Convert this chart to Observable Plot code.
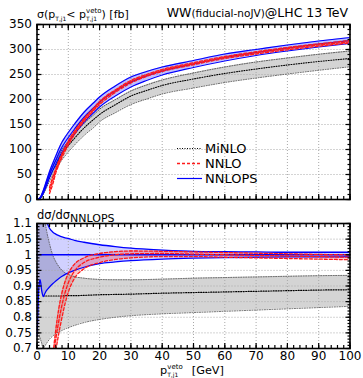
<!DOCTYPE html>
<html><head><meta charset="utf-8">
<script src="https://cdn.jsdelivr.net/npm/d3@7"></script>
<script src="https://cdn.jsdelivr.net/npm/@observablehq/plot@0.6"></script>
<style>
body{margin:0;background:#fff;}
#wrap{position:relative;width:363px;height:378px;overflow:hidden;background:#fff;}
#wrap > div, #wrap > svg{position:absolute;left:0;}
</style></head>
<body><div id="wrap"></div>
<script>
// ---------- data ----------
// top panel: cross section sigma(pT,j1 < pT veto) [fb]
const tx = [0,1,2,3,4,5,6,7,8,9,10,12,14,16,18,20,25,30,35,40,50,60,70,80,90,100];
const nnlopsTop   = [0,3,15,32,50,65,79,93,105,115,124,141,157,171,183,195,217,235,247,257,271,284,294,303,311,318];
const nnlopsTopLo = [0,2,12,27,44,58,71,84,95,105,114,131,147,161,173,185,207,225,238,249,264,277,288,297,305,312];
const nnlopsTopHi = [0,4,18,37,56,72,87,102,115,125,134,151,167,181,193,205,227,245,256,265,278,291,300,309,317,324];
const minloTop    = [0,2.6,13,27.8,43.4,56.4,68.6,80.7,91.1,100,107.8,122.5,136.6,148.8,159.6,170,189.4,207,218,228,241,252,261,269,276,282];
const minloTopLo  = [0,2.2,10.5,22.9,36.5,48.1,59.1,70,79.6,87.5,95.1,109.1,122,133.5,143.5,155.4,173.6,190,201,211,223,234,243,251,258.5,265.5];
const minloTopHi  = [0,3.5,17,34.6,51.8,65,77.3,89.5,99.8,108.5,116.2,131.1,145.5,158,168.7,180.5,199.6,217,229,239,253,265,275,283,290.5,297];
const nx = [4,5,6,7,8,9,10,12,14,16,18,20,25,30,35,40,50,60,70,80,90,100];
const nnloTop   = [18,37,57,73,88,101,113,134,151,166,179,193,217,236,248,258,271.5,284,293.4,301.8,309.1,315.5];
const nnloTopLo = [12,30,53,70,84,97,109,130,148,163,177,190,214,233,246,256,269.5,282,291,299.4,306.6,313];
const nnloTopHi = [24,44,61,78,92,105,117,137,154,169,182,196,219,238,250,260,273.5,286,295.5,304,311.3,318];

// bottom panel: ratio to NNLOPS
const rx = [0,0.25,0.5,0.75,1,1.5,2,2.5,3,4,5,6,7,8,9,10,12,15,20,25,30,40,50,60,70,80,90,100];
const nnlopsRatio   = [1,1,1,1,1,1,1,1,1,1,1,1,1,1,1,1,1,1,1,1,1,1,1,1,1,1,1,1];
const nnlopsRatioLo = [0.74,0.80,0.88,0.91,0.92,0.885,0.866,0.876,0.885,0.897,0.907,0.916,0.924,0.931,0.937,0.942,0.95,0.96,0.972,0.977,0.981,0.986,0.989,0.991,0.992,0.993,0.993,0.994];
const nnlopsRatioHi = [1.6,1.5,1.4,1.33,1.28,1.2,1.16,1.13,1.11,1.085,1.073,1.066,1.061,1.057,1.054,1.052,1.046,1.04,1.032,1.026,1.021,1.015,1.011,1.01,1.009,1.008,1.008,1.008];
const minloRatio   = [null,null,null,null,null,null,0.868,0.868,0.868,0.868,0.868,0.868,0.868,0.868,0.869,0.869,0.869,0.87,0.872,0.873,0.874,0.877,0.879,0.881,0.883,0.885,0.887,0.888];
const minloRatioLo = [0.765,0.757,0.748,0.74,0.733,0.717,0.70,0.708,0.716,0.73,0.74,0.748,0.753,0.758,0.763,0.767,0.774,0.783,0.793,0.8,0.805,0.811,0.815,0.819,0.823,0.827,0.831,0.835];
const minloRatioHi = [1.6,1.5,1.45,1.4,1.35,1.25,1.17,1.11,1.08,1.035,1.0,0.978,0.962,0.95,0.942,0.937,0.93,0.925,0.921,0.92,0.92,0.922,0.925,0.927,0.929,0.931,0.933,0.934];
const nnloRatio   = [null,null,null,null,null,null,null,null,null,null,0.64,0.73,0.79,0.84,0.88,0.91,0.948,0.975,0.992,1.0,1.003,1.004,1.002,1.0,0.998,0.996,0.994,0.992];
const nnloRatioHi = [null,null,null,null,null,null,null,null,null,null,0.67,0.76,0.83,0.88,0.915,0.94,0.97,0.99,1.004,1.01,1.012,1.011,1.009,1.007,1.005,1.003,1.001,1.0];
const nnloRatioLo = [null,null,null,null,null,null,null,null,null,null,0.6,0.69,0.75,0.80,0.845,0.88,0.925,0.955,0.975,0.985,0.99,0.994,0.994,0.992,0.99,0.988,0.986,0.984];

// ticks
const xMajor = [0,10,20,30,40,50,60,70,80,90,100];
const xGrid = [10,20,30,40,50,60,70,80,90];
const xMinor = d3.range(0, 100.001, 2);
const yTopMajor = [0,50,100,150,200,250,300,350];
const yTopGrid = [50,100,150,200,250,300];
const yTopMinor = d3.range(0, 350.001, 10);
const yRatMajor = [0.7,0.75,0.8,0.85,0.9,0.95,1,1.05,1.1];
const yRatGrid = [0.75,0.8,0.85,0.9,0.95,1,1.05];
const yRatMinor = d3.range(70, 110.5, 1).map(v => v / 100);

// ---------- build tables ----------
const topNNLOPS = tx.map((x,i)=>({x, c:nnlopsTop[i], lo:nnlopsTopLo[i], hi:nnlopsTopHi[i]}));
const topMiNLO  = tx.map((x,i)=>({x, c:minloTop[i], lo:minloTopLo[i], hi:minloTopHi[i]}));
const topNNLO   = nx.map((x,i)=>({x, c:nnloTop[i], lo:nnloTopLo[i], hi:nnloTopHi[i]}));
const rNNLOPS = rx.map((x,i)=>({x, c:nnlopsRatio[i], lo:nnlopsRatioLo[i], hi:nnlopsRatioHi[i]}));
const rMiNLO  = rx.map((x,i)=>({x, c:minloRatio[i], lo:minloRatioLo[i], hi:minloRatioHi[i]}));
const rNNLO   = rx.map((x,i)=>({x, c:nnloRatio[i], lo:nnloRatioLo[i], hi:nnloRatioHi[i]}));

const FONT = "DejaVu Sans, sans-serif";
const curve = "monotone-x";
const gridStyle = {stroke:"#a8a8a8", strokeOpacity:1, strokeDasharray:"1,2", strokeWidth:1};

function frameTicks(yMaj, yMin) {
  const s = {fill:"none", label:null, strokeWidth:1.2};
  return [
    Plot.axisX(xMajor, {...s, anchor:"bottom", tickSize:5, dy:-5}),
    Plot.axisX(xMajor, {...s, anchor:"top", tickSize:5, dy:5}),
    Plot.axisX(xMinor, {...s, anchor:"bottom", tickSize:3, dy:-3}),
    Plot.axisX(xMinor, {...s, anchor:"top", tickSize:3, dy:3}),
    Plot.axisY(yMaj, {...s, anchor:"left", tickSize:5, dx:5}),
    Plot.axisY(yMaj, {...s, anchor:"right", tickSize:5, dx:-5}),
    Plot.axisY(yMin, {...s, anchor:"left", tickSize:3, dx:3}),
    Plot.axisY(yMin, {...s, anchor:"right", tickSize:3, dx:-3}),
    Plot.frame({stroke:"black", strokeWidth:1.6})
  ];
}

function lines(rows, stroke, dash, wEdge, wC, cStroke) {
  return [
    Plot.line(rows, {x:"x", y:"lo", stroke, strokeWidth:wEdge, strokeDasharray:dash, curve, clip:true}),
    Plot.line(rows, {x:"x", y:"hi", stroke, strokeWidth:wEdge, strokeDasharray:dash, curve, clip:true}),
    Plot.line(rows, {x:"x", y:"c", stroke:cStroke || stroke, strokeWidth:wC, strokeDasharray:dash, curve, clip:true})
  ];
}

const topPlot = Plot.plot({
  width:363, height:205,
  marginLeft:36.5, marginRight:13.5, marginTop:24, marginBottom:6,
  x:{domain:[0,100]}, y:{domain:[0,350]},
  style:{background:"transparent", fontFamily:FONT, fontSize:"12px", overflow:"visible", color:"black"},
  marks:[
    Plot.areaY(topMiNLO, {x:"x", y1:"lo", y2:"hi", fill:"#d4d4d4", curve, clip:true}),
    Plot.gridX(xGrid, gridStyle),
    Plot.gridY(yTopGrid, gridStyle),
    ...lines(topMiNLO, "#333", "1,1.5", 0.8, 1.1, "black"),
    Plot.areaY(topNNLOPS, {x:"x", y1:"lo", y2:"hi", fill:"blue", fillOpacity:0.25, curve, clip:true}),
    ...lines(topNNLOPS, "blue", null, 1.2, 1.2),
    Plot.areaY(topNNLO, {x:"x", y1:"lo", y2:"hi", fill:"red", fillOpacity:0.25, curve, clip:true}),
    ...lines(topNNLO, "#ff1a1a", "3,2", 1.3, 1.3),
    ...frameTicks(yTopMajor, yTopMinor),
    Plot.axisY(yTopMajor, {anchor:"left", tickSize:0, tickPadding:5, label:null})
  ]
});

const botPlot = Plot.plot({
  width:363, height:173,
  marginLeft:36.5, marginRight:13.5, marginTop:18, marginBottom:30,
  x:{domain:[0,100]}, y:{domain:[0.7,1.1]},
  style:{background:"transparent", fontFamily:FONT, fontSize:"12px", overflow:"visible", color:"black"},
  marks:[
    Plot.areaY(rMiNLO, {x:"x", y1:"lo", y2:"hi", fill:"#d4d4d4", curve, clip:true}),
    Plot.areaY(rNNLOPS, {x:"x", y1:"lo", y2:"hi", fill:"blue", fillOpacity:0.18, curve, clip:true}),
    Plot.areaY(rNNLO, {x:"x", y1:"lo", y2:"hi", fill:"red", fillOpacity:0.22, curve, clip:true}),
    Plot.gridX(xGrid, gridStyle),
    Plot.gridY(yRatGrid, gridStyle),
    ...lines(rMiNLO, "#444", "1,1.5", 0.8, 1.2, "black"),
    ...lines(rNNLOPS, "blue", null, 1.3, 1.5),
    ...lines(rNNLO, "#ff1a1a", "3,2", 1.3, 1.3),
    ...frameTicks(yRatMajor, yRatMinor),
    Plot.axisY(yRatMajor, {anchor:"left", tickSize:0, tickPadding:5, label:null, tickFormat:d => String(d)}),
    Plot.axisX(xMajor, {anchor:"bottom", tickSize:0, tickPadding:3, label:null})
  ]
});

const wrap = document.getElementById("wrap");
const d1 = document.createElement("div"); d1.style.top = "0px"; d1.appendChild(topPlot);
const d2 = document.createElement("div"); d2.style.top = "205px"; d2.appendChild(botPlot);
wrap.appendChild(d2); wrap.appendChild(d1);

// titles, legend (text overlay)
const ov = `
<svg width="363" height="378" style="top:0;left:0;pointer-events:none" font-family="${FONT}" fill="black">
  <text x="37" y="18" font-size="11">σ(p<tspan font-size="6" dy="2.5">T,j1</tspan><tspan dy="-2.5">&lt; p</tspan><tspan font-size="6" dy="2.5">T,j1</tspan><tspan font-size="7" dx="-11" dy="-7.5">veto</tspan><tspan dy="5">) [fb]</tspan></text>
  <text x="348" y="17" font-size="12.5" text-anchor="end">WW<tspan font-size="10.5">(fiducial-noJV)</tspan>@LHC 13 TeV</text>
  <text x="37" y="218.5" font-size="11.5">dσ/dσ<tspan font-size="11" dy="3.5">NNLOPS</tspan></text>
  <text x="160" y="374" font-size="11.3">p<tspan font-size="6" dy="2.5">T,j1</tspan><tspan font-size="7" dx="-11" dy="-7.5">veto</tspan><tspan dy="5" dx="9">[GeV]</tspan></text>
  <line x1="177" x2="202" y1="148.5" y2="148.5" stroke="black" stroke-width="1.1" stroke-dasharray="1,1.5"/>
  <line x1="177" x2="202" y1="163.5" y2="163.5" stroke="#ff1a1a" stroke-width="1.5" stroke-dasharray="3,2"/>
  <line x1="177" x2="202" y1="178.5" y2="178.5" stroke="blue" stroke-width="1.2"/>
  <text x="205" y="153" font-size="13">MiNLO</text>
  <text x="205" y="168" font-size="13">NNLO</text>
  <text x="205" y="183" font-size="13">NNLOPS</text>
</svg>`;
wrap.insertAdjacentHTML("beforeend", ov);
</script>
</body></html>
